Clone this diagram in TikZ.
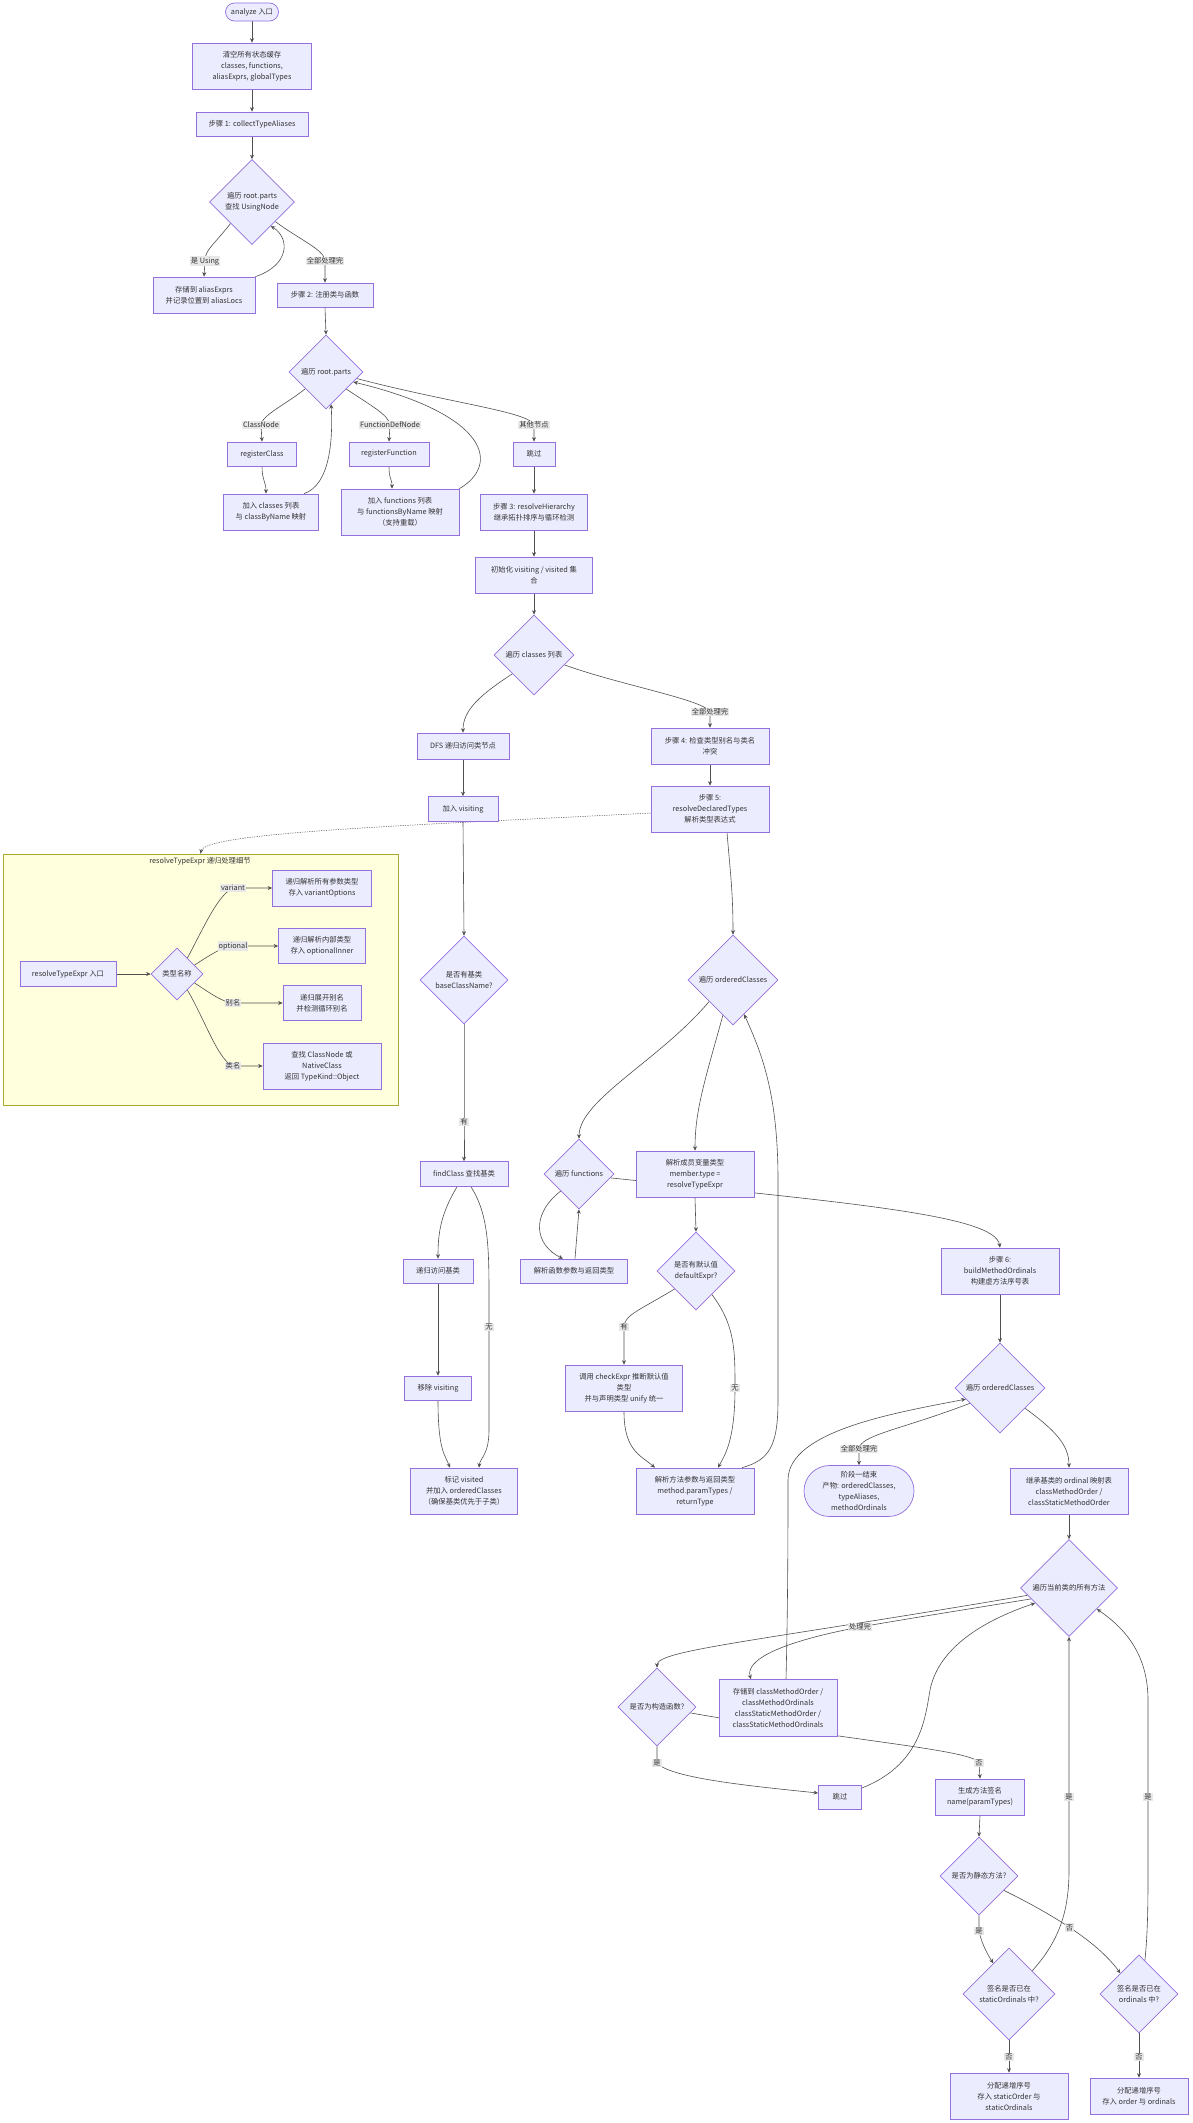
\documentclass[tikz,border=0pt]{standalone}
\usepackage{fontspec}
\setmainfont{Noto Sans CJK SC}
\usetikzlibrary{shapes.geometric,shapes.misc,arrows.meta}
\pgfdeclarelayer{sgl}\pgfdeclarelayer{edgel}\pgfsetlayers{sgl,edgel,main}
\definecolor{nfill}{HTML}{ECECFF}
\definecolor{nline}{HTML}{9370DB}
\definecolor{ecol}{HTML}{505050}
\definecolor{lbg}{HTML}{E8E8E8}
\definecolor{sgfill}{HTML}{FFFFDE}
\definecolor{sgline}{HTML}{AAAA33}
\definecolor{tcol}{HTML}{333333}
\newcommand\myfont{\fontsize{7.3}{11}\selectfont}
\tikzset{
  box/.style={rectangle, draw=nline, fill=nfill, line width=0.7pt, text=tcol, align=center, inner sep=0pt, font=\myfont},
  dia/.style={diamond, aspect=1, draw=nline, fill=nfill, line width=0.7pt, text=tcol, align=center, inner sep=0pt, font=\myfont},
  stad/.style={rounded rectangle, draw=nline, fill=nfill, line width=0.7pt, text=tcol, align=center, inner sep=0pt, font=\myfont},
  lbl/.style={fill=lbg, inner sep=1pt, text=tcol, font=\fontsize{7.3}{9}\selectfont},
  e/.style={draw=ecol, line width=0.6pt, -{Stealth[length=4.5pt,width=4pt]}},
  dotedge/.style={draw=ecol, line width=0.5pt, dash pattern=on 1.2pt off 1.2pt, -{Stealth[length=4.5pt,width=4pt]}}
}
\begin{document}
\begin{tikzpicture}[x=1pt,y=-1pt]
\useasboundingbox (0,0) rectangle (1192,2123);
\begin{pgfonlayer}{sgl}
\fill[white] (0,0) rectangle (1192,2123);
\end{pgfonlayer}
% ---------- main nodes ----------
\node[stad, minimum width=53pt, minimum height=18pt] (start) at (252,12) {analyze 入口};
\node[box, minimum width=119pt, minimum height=46pt] (clear) at (252,66) {清空所有状态缓存\\classes, functions,\\aliasExprs, globalTypes};
\node[box, minimum width=112pt, minimum height=24pt] (step1) at (252,124) {步骤 1: collectTypeAliases};
\node[dia, minimum size=85pt] (d1) at (252,202) {遍历 root.parts\\查找 UsingNode};
\node[box, minimum width=102pt, minimum height=36pt] (alias) at (204,295) {存储到 aliasExprs\\并记录位置到 aliasLocs};
\node[box, minimum width=96pt, minimum height=24pt] (step2) at (325,295) {步骤 2: 注册类与函数};
\node[dia, minimum size=74pt] (d2) at (326,372) {遍历 root.parts};
\node[box, minimum width=69pt, minimum height=24pt] (regC) at (262,454) {registerClass};
\node[box, minimum width=95pt, minimum height=36pt] (addC) at (271,512) {加入 classes 列表\\与 classByName 映射};
\node[box, minimum width=80pt, minimum height=24pt] (regF) at (389,454) {registerFunction};
\node[box, minimum width=118pt, minimum height=46pt] (addF) at (400,512) {加入 functions 列表\\与 functionsByName 映射\\（支持重载）};
\node[box, minimum width=42pt, minimum height=24pt] (skip1) at (534,454) {跳过};
\node[box, minimum width=107pt, minimum height=36pt] (step3) at (534,512) {步骤 3: resolveHierarchy\\继承拓扑排序与循环检测};
\node[box, minimum width=117pt, minimum height=36pt] (init) at (534,575) {初始化 visiting / visited 集\\合};
\node[dia, minimum size=80pt] (d3) at (534,655) {遍历 classes 列表};
\node[box, minimum width=92pt, minimum height=26pt] (dfs) at (463,746) {DFS 递归访问类节点};
\node[box, minimum width=118pt, minimum height=36pt] (step4) at (710,746) {步骤 4: 检查类型别名与类名\\冲突};
\node[box, minimum width=70pt, minimum height=25pt] (addV) at (463,809) {加入 visiting};
\node[box, minimum width=118pt, minimum height=46pt] (step5) at (710,809) {步骤 5:\\resolveDeclaredTypes\\解析类型表达式};
\node[dia, minimum size=88pt] (base) at (464,980) {是否有基类\\baseClassName?};
\node[dia, minimum size=90pt] (ord1) at (733,980) {遍历 orderedClasses};
\node[box, minimum width=88pt, minimum height=25pt] (findC) at (464,1174) {findClass 查找基类};
\node[dia, minimum size=70pt] (funcs) at (579,1174) {遍历 functions};
\node[box, minimum width=118pt, minimum height=46pt] (member) at (695,1174) {解析成员变量类型\\member.type =\\resolveTypeExpr};
\node[box, minimum width=70pt, minimum height=24pt] (recB) at (438,1271) {递归访问基类};
\node[box, minimum width=107pt, minimum height=24pt] (funcP) at (574,1271) {解析函数参数与返回类型};
\node[dia, minimum size=78pt] (def) at (696,1271) {是否有默认值\\defaultExpr?};
\node[box, minimum width=118pt, minimum height=46pt] (step6) at (1000,1271) {步骤 6:\\buildMethodOrdinals\\构建虚方法序号表};
\node[box, minimum width=67pt, minimum height=24pt] (remV) at (438,1388) {移除 visiting};
\node[box, minimum width=117pt, minimum height=46pt] (check) at (624,1388) {调用 checkExpr 推断默认值\\类型\\并与声明类型 unify 统一};
\node[dia, minimum size=90pt] (ord2) at (1000,1388) {遍历 orderedClasses};
\node[box, minimum width=107pt, minimum height=46pt] (markV) at (464,1491) {标记 visited\\并加入 orderedClasses\\（确保基类优先于子类）};
\node[box, minimum width=118pt, minimum height=46pt] (methP) at (695,1491) {解析方法参数与返回类型\\method.paramTypes /\\returnType};
\node[stad, minimum width=110pt, minimum height=51pt] (phase) at (859,1491) {阶段一结束\\产物: orderedClasses,\\typeAliases,\\methodOrdinals};
\node[box, minimum width=118pt, minimum height=46pt] (inh) at (1069,1491) {继承基类的 ordinal 映射表\\classMethodOrder /\\classStaticMethodOrder};
\node[dia, minimum size=97pt] (meth) at (1069,1588) {遍历当前类的所有方法};
\node[dia, minimum size=78pt] (ctor) at (657,1707) {是否为构造函数?};
\node[box, minimum width=118pt, minimum height=57pt] (store) at (778,1708) {存储到 classMethodOrder /\\classMethodOrdinals\\classStaticMethodOrder /\\classStaticMethodOrdinals};
\node[box, minimum width=43pt, minimum height=24pt] (skip2) at (840,1797) {跳过};
\node[box, minimum width=89pt, minimum height=36pt] (gen) at (980,1797) {生成方法签名\\name(paramTypes)};
\node[dia, minimum size=78pt] (stat) at (979,1876) {是否为静态方法?};
\node[dia, minimum size=92pt] (sord) at (1009,1994) {签名是否已在\\staticOrdinals 中?};
\node[dia, minimum size=78pt] (oord) at (1139,1994) {签名是否已在\\ordinals 中?};
\node[box, minimum width=118pt, minimum height=46pt] (allocS) at (1009,2096) {分配递增序号\\存入 staticOrder 与\\staticOrdinals};
\node[box, minimum width=98pt, minimum height=36pt] (allocO) at (1139,2096) {分配递增序号\\存入 order 与 ordinals};
% ---------- subgraph ----------
\begin{pgfonlayer}{sgl}
\node[rectangle, draw=sgline, fill=sgfill, line width=0.7pt, minimum width=395pt, minimum height=251pt, inner sep=0pt] (sg) at (200.5,979.5) {};
\end{pgfonlayer}
\node[text=tcol, font=\myfont, inner sep=0pt] (sgt) at (200,861) {resolveTypeExpr 递归处理细节};
\node[box, minimum width=96pt, minimum height=25pt] (rte) at (68,974) {resolveTypeExpr 入口};
\node[dia, minimum size=52pt] (tn) at (177,974) {类型名称};
\node[box, minimum width=99pt, minimum height=36pt] (vb) at (322,888) {递归解析所有参数类型\\存入 variantOptions};
\node[box, minimum width=87pt, minimum height=35pt] (ob) at (322,946) {递归解析内部类型\\存入 optionalInner};
\node[box, minimum width=78pt, minimum height=35pt] (ab) at (322,1003) {递归展开别名\\并检测循环别名};
\node[box, minimum width=118pt, minimum height=46pt] (cb) at (322,1066) {查找 ClassNode 或\\NativeClass\\返回 TypeKind::Object};
% ---------- edges ----------
\begin{pgfonlayer}{edgel}
\draw[e] (start.south) -- (clear.north);
\draw[e] (clear.south) -- (step1.north);
\draw[e] (step1.south) -- (d1.north);
\draw[e] (d1.south west) .. controls (212,247) and (205,250) .. (205,261) node[lbl] (l1) {是 Using} -- (alias.north);
\draw[e] (alias.north east) .. controls (290,265) and (290,238) .. (d1.-52);
\draw[e] (d1.-40) .. controls (300,240) and (325,250) .. (325,261) node[lbl] (l2) {全部处理完} -- (step2.north);
\draw[e] (step2.south) -- (d2.north);
\draw[e] (d2.219) .. controls (285,405) and (262,415) .. (261,425) node[lbl] (l3) {ClassNode} -- (regC.north);
\draw[e] ([xshift=33pt]addC.north) .. controls (330,485) and (333,440) .. (d2.-81);
\draw[e] (d2.-40) .. controls (370,405) and (389,415) .. (390,425) node[lbl] (l4) {FunctionDefNode} -- (regF.north);
\draw[e] (addF.north east) .. controls (500,465) and (490,415) .. (d2.-20);
\draw[e] (d2.-12) .. controls (450,403) and (530,412) .. (534,425) node[lbl] (l5) {其他节点} -- (skip1.north);
\draw[e] (regC.south) .. controls (262,480) and (266,482) .. ([xshift=-5pt]addC.north);
\draw[e] (regF.south) .. controls (389,480) and (392,478) .. ([xshift=-8pt]addF.north);
\draw[e] (skip1.south) -- (step3.north);
\draw[e] (step3.south) -- (init.north);
\draw[e] (init.south) -- (d3.north);
\draw[e] (d3.221) .. controls (480,695) and (463,710) .. (dfs.north);
\draw[e] (d3.-18) .. controls (620,685) and (705,700) .. (710,712) node[lbl] (l6) {全部处理完} -- (step4.north);
\draw[e] (dfs.south) -- (addV.north);
\draw[e] (step4.south) -- (step5.north);
\draw[e] (addV.south) -- (base.north);
\draw[e] ([xshift=17pt]step5.south) .. controls (730,870) and (733,890) .. (ord1.north);
\draw[dotedge] ([yshift=-4pt]step5.west) .. controls (420,825) and (205,832) .. (sg.north);
\draw[e] (base.south) -- (464,1122) node[lbl] (l7) {有} -- (findC.north);
\draw[e] (ord1.222) .. controls (660,1060) and (579,1100) .. (funcs.north);
\draw[e] (ord1.254) .. controls (705,1080) and (695,1110) .. (member.north);
\draw[e] ([xshift=47pt]methP.north) .. controls (770,1460) and (778,1445) .. (778,1400) -- (778,1180) .. controls (778,1090) and (760,1050) .. (ord1.-72);
\draw[e] (funcs.-7) .. controls (850,1203) and (995,1215) .. (step6.north);
\draw[e] ([xshift=-7pt]findC.south) .. controls (440,1215) and (438,1235) .. (recB.north);
\draw[e] ([xshift=7pt]findC.south) .. controls (489,1215) and (489,1250) .. (489,1300) -- (489,1327) node[lbl] (l8) {无} -- (489,1430) .. controls (489,1455) and (480,1458) .. ([xshift=15pt]markV.north);
\draw[e] (recB.south) -- (remV.north);
\draw[e] (remV.south) .. controls (438,1450) and (445,1455) .. ([xshift=-14pt]markV.north);
\draw[e] (funcs.223) .. controls (530,1215) and (535,1245) .. ([xshift=-11pt]funcP.north);
\draw[e] ([xshift=1pt]funcP.north) -- (funcs.south);
\draw[e] (member.south) -- (def.north);
\draw[e] (def.220) .. controls (640,1310) and (624,1315) .. (624,1327) node[lbl] (l9) {有} -- (check.north);
\draw[e] (def.-56) .. controls (735,1325) and (735,1350) .. (735,1388) node[lbl] (l10) {无} .. controls (735,1440) and (725,1455) .. ([xshift=23pt]methP.north);
\draw[e] (check.south) .. controls (624,1450) and (640,1455) .. ([xshift=-40pt]methP.north);
\draw[e] (step6.south) -- (ord2.north);
\draw[e] (ord2.207) .. controls (900,1430) and (860,1435) .. (859,1449) node[lbl] (l11) {全部处理完} -- (phase.north);
\draw[e] ([xshift=8pt]store.north) .. controls (788,1600) and (788,1520) .. (788,1480) .. controls (788,1430) and (900,1412) .. (ord2.198);
\draw[e] (ord2.-39) .. controls (1055,1430) and (1069,1445) .. (inh.north);
\draw[e] (inh.south) -- (meth.north);
\draw[e] (meth.190) .. controls (760,1641) and (657,1650) .. (ctor.north);
\draw[e] (meth.196) .. controls (950,1612) and (900,1620) .. (860,1627) node[lbl] (l12) {处理完} .. controls (780,1642) and (745,1660) .. ([xshift=-27pt]store.north);
\draw[e] (ctor.south) -- (657,1763) node[lbl] (l13) {是} .. controls (670,1778) and (750,1786) .. ([yshift=4pt]skip2.west);
\draw[e] (ctor.-10) .. controls (850,1741) and (975,1750) .. (979,1763) node[lbl] (l14) {否} -- (gen.north);
\draw[e] ([yshift=9pt]skip2.east) .. controls (920,1765) and (925,1720) .. (930,1690) .. controls (940,1640) and (1000,1615) .. (meth.204);
\draw[e] (gen.south) -- (stat.north);
\draw[e] (stat.south) -- (979,1931) node[lbl] (l15) {是} .. controls (982,1945) and (988,1955) .. (sord.117);
\draw[e] (stat.-30) .. controls (1060,1918) and (1100,1945) .. node[lbl, pos=0.45] (l16) {否} (oord.132);
\draw[e] (sord.45) .. controls (1060,1940) and (1069,1910) .. (1069,1870) -- (1069,1797) node[lbl] (l17) {是} -- (meth.south);
\draw[e] (oord.80) .. controls (1148,1930) and (1148,1900) .. (1148,1870) -- (1148,1797) node[lbl] (l18) {是} -- (1148,1700) .. controls (1148,1650) and (1120,1625) .. (meth.-37);
\draw[e] (sord.south) -- (1009,2057) node[lbl] (l19) {否} -- (allocS.north);
\draw[e] (oord.south) -- (1139,2057) node[lbl] (l20) {否} -- (allocO.north);
% subgraph edges
\draw[e] (rte.east) -- (tn.west);
\draw[e] (tn.57) .. controls (205,925) and (218,895) .. (233,888) node[lbl] (l21) {variant} -- (vb.west);
\draw[e] (tn.27) .. controls (210,955) and (222,947) .. (233,946) node[lbl] (l22) {optional} -- (ob.west);
\draw[e] (tn.-27) .. controls (210,993) and (222,1002) .. (233,1003) node[lbl] (l23) {别名} -- (ab.west);
\draw[e] (tn.-57) .. controls (205,1020) and (218,1060) .. (233,1066) node[lbl] (l24) {类名} -- (cb.west);
\end{pgfonlayer}
\end{tikzpicture}
\end{document}
